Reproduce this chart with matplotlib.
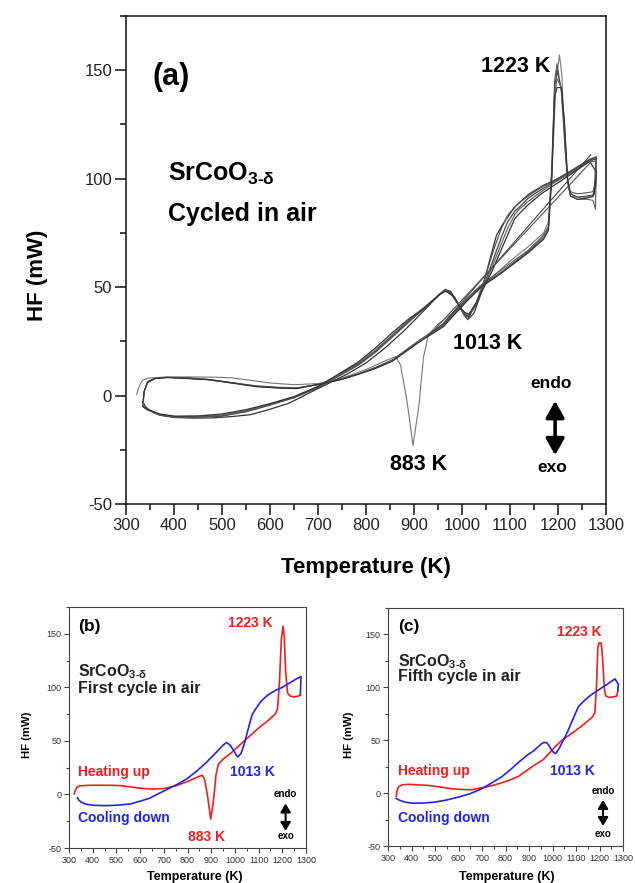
import matplotlib
matplotlib.use('Agg')
import matplotlib.pyplot as plt
from matplotlib.ticker import MultipleLocator

plt.rcParams['font.family'] = ['Liberation Sans', 'DejaVu Sans']
plt.rcParams['mathtext.fontset'] = 'custom'
plt.rcParams['mathtext.rm'] = 'Liberation Sans:bold'
plt.rcParams['mathtext.it'] = 'Liberation Sans:bold:italic'
plt.rcParams['mathtext.bf'] = 'Liberation Sans:bold'
plt.rcParams['axes.unicode_minus'] = False

# ---------------- data ----------------
# first cycle, heating (with 883 K exotherm)
h1_T = [322, 327, 334, 345, 380, 430, 480, 520, 560, 600, 650, 700, 750, 800, 840, 862, 872,
        885, 898, 910, 920, 930, 950, 980, 1010, 1050, 1100, 1140, 1170, 1180, 1188, 1196,
        1203, 1208, 1214, 1222, 1232, 1250, 1270, 1276]
h1_HF = [0.5, 4, 7, 8, 8.5, 8.6, 8.5, 8.2, 7.0, 5.8, 5.0, 5.5, 8, 12, 16, 18, 14,
         -2, -23, -5, 18, 28, 33, 38, 44, 52, 62, 69, 75, 80, 105, 145,
         157, 148, 115, 95, 92, 91, 92, 93]
# first cycle, cooling
c1_T = [1276, 1279, 1260, 1230, 1200, 1170, 1140, 1110, 1085, 1072, 1062, 1050, 1038, 1025,
        1012, 1005, 995, 980, 965, 950, 920, 880, 840, 800, 760, 720, 680, 640, 600, 560,
        520, 480, 440, 400, 370, 350, 340, 336]
c1_HF = [93, 110, 108, 104, 100, 97, 93, 87, 79, 74, 66, 56, 46, 38,
         35, 37, 41, 46, 48.5, 46, 39, 30, 22, 15, 9.8, 5.4, 1, -3.5, -6.3, -8.8,
         -9.7, -10.3, -10.4, -10.1, -9, -7, -5, -3]

# later cycles, heating (common temperature grid)
hx_T = [335, 338, 345, 360, 386, 430, 471, 520, 571, 620, 656, 713, 750, 784, 820, 855, 911,
        961, 1011, 1040, 1082, 1138, 1170, 1180, 1187, 1193, 1198, 1207, 1213, 1220, 1226,
        1240, 1260, 1273, 1278]
h2_HF = [-5, 2, 6.5, 8, 8.5, 8.2, 7.5, 6, 4.5, 3.8, 3.6, 5.5, 7.8, 10, 13, 16.5, 25.5,
         33, 45, 51, 58, 67, 74, 78, 105, 145, 153, 140, 120, 98, 94,
         93, 93.5, 94, 99]
h3_HF = [-5, 2, 6.2, 7.9, 8.4, 8.0, 7.4, 5.9, 4.3, 3.6, 3.4, 5.6, 7.6, 9.9, 12.8, 16.2, 25,
         32.5, 44.5, 50.5, 57, 66.5, 73, 77, 103, 142, 150, 141, 124, 99, 93,
         91.5, 92, 92.5, 96]
h4_HF = [-5, 2, 6, 7.8, 8.3, 7.9, 7.3, 5.8, 4.2, 3.5, 3.3, 5.7, 7.5, 9.8, 12.6, 16, 24.8,
         32, 44, 50.2, 56.7, 66, 72.5, 76.5, 101, 140, 146, 142, 127, 100, 92,
         90.5, 90.5, 90, 86]
h5_HF = [-3, 2, 6, 7.8, 8.3, 7.8, 7.3, 5.8, 4.1, 3.4, 3.2, 5.7, 7.5, 9.8, 12.5, 15.8, 24.7,
         31.7, 43.7, 50, 56.4, 65.8, 72, 76, 100, 138, 142, 142, 128, 100, 92,
         90.5, 91, 91.7, 97]

# later cycles, cooling (common temperature grid)
cx_T = [1278, 1280, 1266, 1230, 1195, 1165, 1138, 1120, 1110, 1095, 1082, 1064, 1046, 1030,
        1014, 1005, 997, 985, 976, 965, 954, 920, 890, 855, 820, 784, 740, 699, 650, 599,
        550, 500, 450, 401, 370, 344, 335]
c2_HF = [99, 110, 109, 104, 99.5, 96, 92, 89, 87, 83, 77, 66, 53, 43,
         36, 37, 40, 45, 48, 49, 47, 40, 34, 27, 20, 14, 8.5, 3.5, -1, -4.5,
         -7.5, -9.5, -10, -10, -9, -6.5, -5]
c3_HF = [96, 109, 108.5, 103.5, 99, 95, 91, 87, 85, 80, 73, 62, 51, 42,
         36.5, 37.5, 40, 45, 48, 48.5, 46.5, 40, 34.5, 27.5, 20.5, 14.5, 9, 3.8, -0.8, -4.2,
         -7.2, -9.2, -9.8, -9.8, -8.8, -6.4, -5]
c4_HF = [86, 108, 108, 103, 98.5, 94, 89.5, 86, 83.5, 77, 70, 60, 50.5, 42.5,
         37, 38, 40.3, 45, 47.7, 48.2, 46.7, 40.5, 35, 28, 21, 15, 9.2, 4, -0.6, -4,
         -7, -9, -9.6, -9.7, -8.7, -6.3, -5]
c5_HF = [97, 103, 108, 102.5, 97.4, 93, 88, 84, 81.6, 74, 67.4, 58, 50, 43,
         37.4, 38.5, 40.5, 45, 47.5, 48, 46.8, 40, 35.5, 29, 22, 15.5, 9.5, 4.1, -0.5, -3.8,
         -6.5, -8.5, -9.4, -9.5, -8.5, -6.3, -5]

# straight connecting traces visible in panel (a)
s1_T = [933, 960, 1268]
s1_HF = [28.5, 33, 111]
s2_T = [945, 1272]
s2_HF = [31, 108.5]

x_ticks = [300, 400, 500, 600, 700, 800, 900, 1000, 1100, 1200, 1300]
y_ticks = [-50, 0, 50, 100, 150]

RED = '#f21d1d'
BLUE = '#2222f2'

fig = plt.figure(figsize=(6.35, 8.83), dpi=100)
W, H = 635.0, 883.0


def add_ax(l, r, t, b):
    return fig.add_axes([l / W, 1 - b / H, (r - l) / W, (b - t) / H])


def style(ax, lab, tl, tmaj, tmin, lw, scol):
    ax.set_xlim(300, 1300)
    ax.set_ylim(-50, 175)
    ax.set_xticks(x_ticks)
    ax.set_yticks(y_ticks)
    ax.xaxis.set_minor_locator(MultipleLocator(50))
    ax.yaxis.set_minor_locator(MultipleLocator(25))
    ax.tick_params(which='major', direction='out', length=tmaj, width=lw, labelsize=lab,
                   colors=scol, labelcolor=tl, pad=2)
    ax.tick_params(which='minor', direction='out', length=tmin, width=lw, colors=scol)
    for s in ax.spines.values():
        s.set_linewidth(lw)
        s.set_color(scol)


# ---------------- panel (a) ----------------
axa = add_ax(126, 606, 16, 504)
style(axa, 12, '#222222', 8, 4.5, 1.1, '#111111')
axa.plot(h1_T, h1_HF, color='#777777', lw=0.8)
axa.plot(c1_T, c1_HF, color='#333333', lw=0.9)
for hh, cc, col in [(h2_HF, c2_HF, '#555555'), (h3_HF, c3_HF, '#444444'),
                    (h4_HF, c4_HF, '#666666'), (h5_HF, c5_HF, '#333333')]:
    axa.plot(hx_T, hh, color=col, lw=0.8)
    axa.plot(cx_T, cc, color=col, lw=0.9)
axa.plot(s1_T, s1_HF, color='#444444', lw=0.8)
axa.plot(s2_T, s2_HF, color='#555555', lw=0.8)

axa.set_xlabel('Temperature (K)', fontsize=16, fontweight='bold')
axa.set_ylabel('HF (mW)', fontsize=16, fontweight='bold')
axa.xaxis.set_label_coords(0.5, -0.108)
axa.yaxis.set_label_coords(-0.163, 0.469)

axa.text(356, 147, '(a)', fontsize=22, fontweight='bold', ha='left', va='center')
axa.text(1112, 151.7, '1223 K', fontsize=15.5, fontweight='bold', ha='center', va='center')
axa.text(387, 102, r'SrCoO$_{\mathrm{3\text{-}δ}}$', fontsize=18, fontweight='bold',
         ha='left', va='center')
axa.text(387, 83.7, 'Cycled in air', fontsize=18, fontweight='bold', ha='left', va='center')
axa.text(1054, 23.9, '1013 K', fontsize=15.5, fontweight='bold', ha='center', va='center')
axa.text(910, -31.6, '883 K', fontsize=15.5, fontweight='bold', ha='center', va='center')
axa.text(1185, 5.6, 'endo', fontsize=12.5, fontweight='bold', ha='center', va='center')
axa.text(1189, -33.2, 'exo', fontsize=12.5, fontweight='bold', ha='center', va='center')
axa.annotate('', xy=(1194, -2.5), xytext=(1194, -27.5),
             arrowprops=dict(arrowstyle='<|-|>,head_length=0.5,head_width=0.28',
                             lw=2.6, color='black', mutation_scale=20,
                             shrinkA=0, shrinkB=0))


# ---------------- panels (b), (c) ----------------
def small_panel(ax, h_T, h_HF, c_T, c_HF, letter, cyc_text, pos):
    style(ax, 6.5, '#333333', 3.5, 2, 0.8, '#444444')
    ax.plot(h_T, h_HF, color=RED, lw=1.2)
    ax.plot(c_T, c_HF, color=BLUE, lw=1.2)
    ax.set_xlabel('Temperature (K)', fontsize=9, fontweight='bold')
    ax.set_ylabel('HF (mW)', fontsize=8.2, fontweight='bold')
    ax.xaxis.set_label_coords(*pos['xl'])
    ax.yaxis.set_label_coords(*pos['yl'])
    ax.text(pos['lx'], pos['let'], letter, fontsize=12.5, fontweight='bold', ha='left', va='center')
    ax.text(pos['pk'][0], pos['pk'][1], '1223 K', fontsize=10, fontweight='bold', color=RED,
            ha='center', va='center')
    ax.text(pos['lx'], pos['sr'], r'SrCoO$_{\mathrm{3\text{-}δ}}$', fontsize=11.5,
            fontweight='bold', color='#222222', ha='left', va='center')
    ax.text(pos['lx'], pos['cy'], cyc_text, fontsize=11.5, fontweight='bold',
            color='#222222', ha='left', va='center')
    ax.text(pos['lx'], 20.6, 'Heating up', fontsize=10, fontweight='bold', color=RED,
            ha='left', va='center')
    ax.text(pos['lx'], pos['cd'], 'Cooling down', fontsize=10, fontweight='bold', color=BLUE,
            ha='left', va='center')
    ax.text(pos['dip'][0], pos['dip'][1], '1013 K', fontsize=10, fontweight='bold', color=BLUE,
            ha='center', va='center')
    ax.text(pos['ax'], pos['endo'], 'endo', fontsize=7, fontweight='bold', ha='center', va='center')
    ax.text(pos['ax'], pos['exo'], 'exo', fontsize=7, fontweight='bold', ha='center', va='center')
    ax.annotate('', xy=(pos['ax'], pos['arr'][0]), xytext=(pos['ax'], pos['arr'][1]),
                arrowprops=dict(arrowstyle='<|-|>,head_length=0.5,head_width=0.3',
                                lw=1.5, color='black', mutation_scale=10,
                                shrinkA=0, shrinkB=0))


axb = add_ax(69, 306, 607, 848)
small_panel(axb, h1_T, h1_HF, c1_T, c1_HF, '(b)', 'First cycle in air',
            dict(xl=(0.53, -0.095), yl=(-0.156, 0.469), lx=340, let=156.5, pk=(1064, 160),
                 sr=115, cy=98.6, cd=-22.4, dip=(1074, 20.6), ax=1214, endo=0.5, exo=-39,
                 arr=(-8.5, -34)))
axb.text(882, -40, '883 K', fontsize=10, fontweight='bold', color=RED, ha='center', va='center')

axc = add_ax(388, 623, 608, 846)
small_panel(axc, hx_T, h5_HF, cx_T, c5_HF, '(c)', 'Fifth cycle in air',
            dict(xl=(0.505, -0.104), yl=(-0.146, 0.466), lx=343, let=157.7, pk=(1113, 152.5),
                 sr=124.5, cy=110, cd=-24, dip=(1085, 20.6), ax=1215, endo=1.6, exo=-38.2,
                 arr=(-6.5, -31)))

fig.savefig('out.png', dpi=100)
